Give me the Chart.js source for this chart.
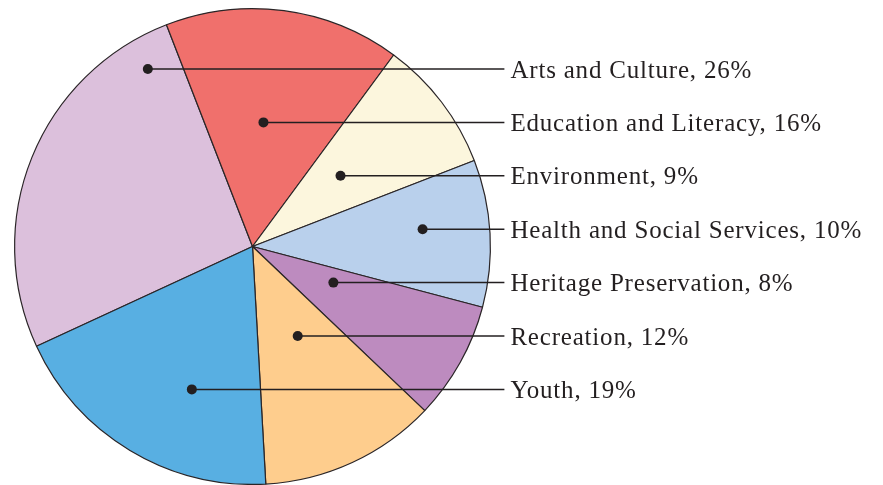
<!DOCTYPE html>
<html>
<head>
<meta charset="utf-8">
<script src="https://cdn.jsdelivr.net/npm/chart.js@4.4.0/dist/chart.umd.min.js"></script>
<style>
  html, body { margin: 0; padding: 0; background: #fff; }
  #wrap { width: 883px; height: 485px; position: relative; }
</style>
</head>
<body>
<div id="wrap"><canvas id="pizza"></canvas></div>
<script>
const categorias = [
  "Arts and Culture",
  "Education and Literacy",
  "Environment",
  "Health and Social Services",
  "Heritage Preservation",
  "Recreation",
  "Youth",
];
const percentuais = [26, 16, 9, 10, 8, 12, 19];
const cores = ["#dcc0dc", "#f0706c", "#fcf6dd", "#b9d0ec", "#bd8bbf", "#fecd8d", "#58afe2"];

// onde fica o ponto de cada rotulo, em fracao do raio (horizontal)
const pontoX = [-0.44, 0.046, 0.37, 0.715, 0.34, 0.19, -0.255];

const rotulos = {
  id: "rotulos",
  afterDatasetsDraw(chart) {
    const ctx = chart.ctx;
    const arco = chart.getDatasetMeta(0).data[0];
    const cx = arco.x;
    const cy = arco.y;
    const r = arco.outerRadius;
    const textoX = cx + r + 20;
    const passo = 53.4;
    const y0 = cy - 177.5;

    ctx.save();
    ctx.strokeStyle = "#231f20";
    ctx.fillStyle = "#231f20";
    ctx.lineWidth = 1.5;
    ctx.font = "25px 'Liberation Serif'";
    ctx.letterSpacing = "0.8px";
    ctx.textBaseline = "alphabetic";
    ctx.textAlign = "left";

    for (let i = 0; i < categorias.length; i++) {
      const y = y0 + i * passo;
      const px = cx + pontoX[i] * r;
      ctx.beginPath();
      ctx.moveTo(px, y);
      ctx.lineTo(textoX - 6, y);
      ctx.stroke();
      ctx.beginPath();
      ctx.arc(px, y, 5, 0, Math.PI * 2);
      ctx.fill();
      ctx.fillText(`${categorias[i]}, ${percentuais[i]}%`, textoX, y + 8.5);
    }
    ctx.restore();
  },
};

function desenhar() {
  const ctx = document.getElementById("pizza").getContext("2d");

  new Chart(ctx, {
    type: "pie",
    data: {
      labels: categorias,
      datasets: [
        {
          data: percentuais,
          backgroundColor: cores,
          borderColor: "#2a2527",
          borderWidth: 1.2,
        },
      ],
    },
    options: {
      responsive: true,
      maintainAspectRatio: false,
      animation: false,
      rotation: -114.8,
      layout: {
        padding: { left: 14, top: 8, right: 392, bottom: 0 },
      },
      plugins: {
        legend: { display: false },
        tooltip: { enabled: false },
      },
    },
    plugins: [rotulos],
  });
}

document.addEventListener("DOMContentLoaded", desenhar);
</script>
</body>
</html>
